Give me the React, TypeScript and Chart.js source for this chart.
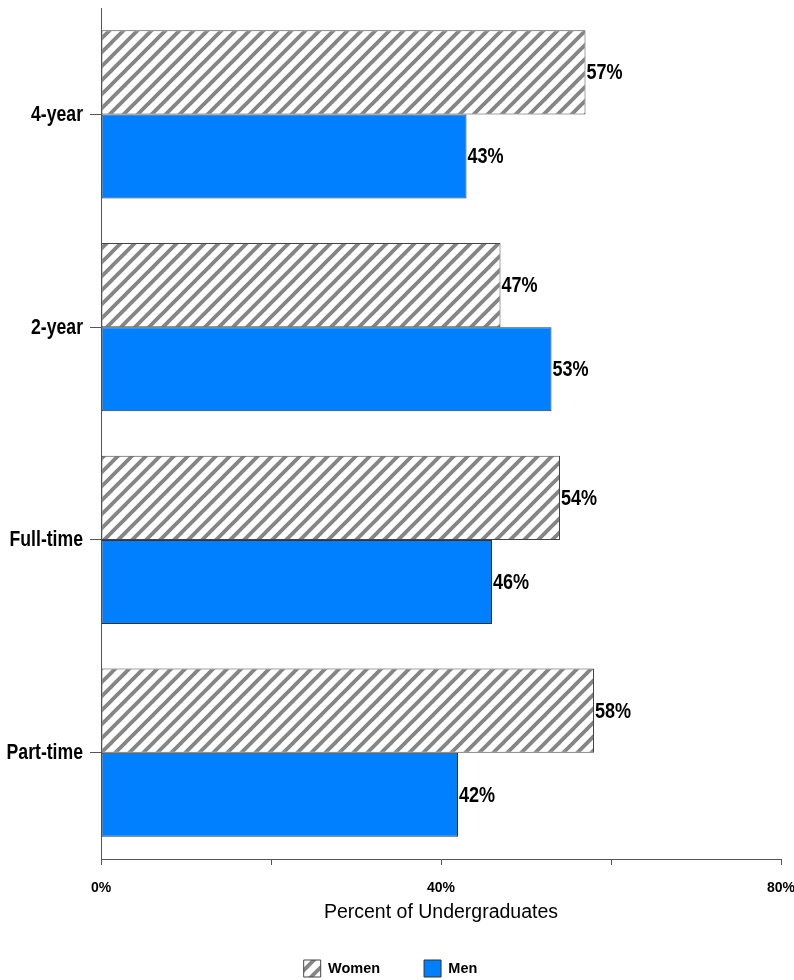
import React, { useEffect, useRef } from 'react';
import { Chart, registerables } from 'chart.js';

Chart.register(...registerables);

const categories = ['4-year', '2-year', 'Full-time', 'Part-time'];
const seriesNames = ['Women', 'Men'];
const womenValues = [57, 47, 54, 58];
const menValues = [43, 53, 46, 42];
const xTickValues = [0, 20, 40, 60, 80];
const xTickLabels = ['0%', '', '40%', '', '80%'];
const axisTitle = 'Percent of Undergraduates';

const SANS = '"Liberation Sans", Arial, sans-serif';

function makeHatch(): CanvasPattern | string {
  const s = 14;
  const c = document.createElement('canvas');
  c.width = s;
  c.height = s;
  const g = c.getContext('2d');
  if (!g) return '#aaa';
  g.fillStyle = '#ffffff';
  g.fillRect(0, 0, s, s);
  g.strokeStyle = '#858585';
  g.lineWidth = 3.8;
  for (const k of [0, 1, 2]) {
    g.beginPath();
    g.moveTo(k * s - s - 2, s + 2);
    g.lineTo(k * s + 2, -2);
    g.stroke();
  }
  const p = g.createPattern(c, 'repeat');
  return p || '#aaa';
}

function condensedText(ctx: any, text: string, x: number, y: number, size: number, align: string) {
  ctx.save();
  ctx.translate(x, y);
  ctx.scale(0.82, 1);
  ctx.font = `bold ${size}px ${SANS}`;
  ctx.fillStyle = '#000';
  ctx.textAlign = align;
  ctx.textBaseline = 'middle';
  ctx.fillText(text, 0, 0);
  ctx.restore();
}

// value labels at bar ends and category labels, drawn condensed (Arial Narrow look)
const narrowLabels = {
  id: 'narrowLabels',
  afterDatasetsDraw(chart: any) {
    const ctx = chart.ctx;
    chart.data.datasets.forEach((ds: any, i: number) => {
      chart.getDatasetMeta(i).data.forEach((bar: any, j: number) => {
        condensedText(ctx, `${ds.data[j]}%`, bar.x + 1, bar.y + 1, 22, 'left');
      });
    });
    const yScale = chart.scales.y;
    const labels = chart.data.labels as string[];
    labels.forEach((lab, i) => {
      condensedText(ctx, lab, yScale.right - 18, yScale.getPixelForValue(i) + 0.5, 21.5, 'right');
    });
  },
};

export default function App() {
  const ref = useRef<HTMLCanvasElement>(null);

  useEffect(() => {
    if (!ref.current) return;
    const hatch = makeHatch();
    const chart = new Chart(ref.current, {
      type: 'bar',
      data: {
        labels: categories,
        datasets: [
          {
            label: seriesNames[0],
            data: womenValues,
            backgroundColor: hatch as any,
            borderColor: '#444',
            borderWidth: 1,
            borderSkipped: false,
          },
          {
            label: seriesNames[1],
            data: menValues,
            backgroundColor: '#0080ff',
            borderColor: '#333',
            borderWidth: 1,
            borderSkipped: false,
          },
        ],
      },
      options: {
        indexAxis: 'y',
        animation: false,
        responsive: false,
        maintainAspectRatio: false,
        datasets: { bar: { categoryPercentage: 0.79, barPercentage: 1.0 } },
        layout: { padding: { top: 8, right: 13, left: 0, bottom: -7 } },
        plugins: {
          tooltip: { enabled: false },
          legend: {
            position: 'bottom',
            labels: {
              boxWidth: 17,
              boxHeight: 17,
              padding: 44,
              color: '#000',
              font: { family: SANS, size: 14.5, weight: 'bold' },
            },
          },
        },
        scales: {
          x: {
            min: 0,
            max: 80,
            afterBuildTicks: (s: any) => {
              s.ticks = xTickValues.map((v) => ({ value: v }));
            },
            ticks: {
              autoSkip: false,
              maxRotation: 0,
              padding: 15,
              color: '#000',
              font: { family: SANS, size: 14, weight: 'bold' },
              callback: (_v: any, i: number) => xTickLabels[i],
            },
            grid: { drawOnChartArea: false, tickLength: 6, color: '#555' },
            border: { color: '#555', width: 1 },
            title: {
              display: true,
              text: axisTitle,
              color: '#000',
              font: { family: SANS, size: 19.5 },
              padding: { top: 0, bottom: -8.8 },
            },
            afterFit: (s: any) => {
              s.height = 57;
              s.paddingLeft = 0;
              s.paddingRight = 0;
            },
          },
          y: {
            grid: { drawOnChartArea: false, offset: false, tickLength: 11, color: '#555' },
            border: { color: '#555', width: 1 },
            ticks: { display: false },
            afterFit: (s: any) => {
              s.width = 101;
              s.paddingTop = 0;
              s.paddingBottom = 0;
            },
          },
        },
      },
      plugins: [narrowLabels],
    });
    return () => chart.destroy();
  }, []);

  return (
    <div style={{ position: 'absolute', left: 0, top: 0, width: 794, height: 980, background: '#fff' }}>
      <canvas ref={ref} width={794} height={980} style={{ display: 'block', width: 794, height: 980 }} />
    </div>
  );
}
